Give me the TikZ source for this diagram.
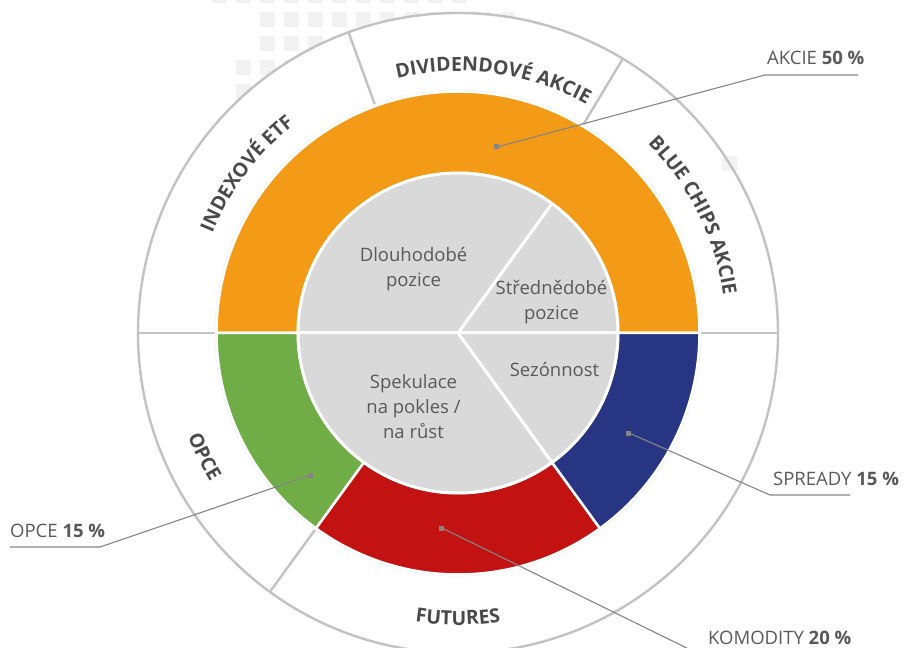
\documentclass[tikz,border=0pt]{standalone}
\usepackage{fontspec}
\setmainfont{Open Sans}
\usetikzlibrary{decorations.text}

\definecolor{akcieorange}{HTML}{F39A16}
\definecolor{opcegreen}{HTML}{70AD47}
\definecolor{komodred}{HTML}{C31212}
\definecolor{spreadblue}{HTML}{283583}
\definecolor{diskgray}{HTML}{D9D9D9}
\definecolor{ringgray}{HTML}{C2C2C2}
\definecolor{leadgray}{HTML}{858585}
\definecolor{textgray}{HTML}{595959}
\definecolor{boldgray}{HTML}{4A4A4A}
\definecolor{tilegray}{HTML}{F2F2F2}

\newcommand{\ringfont}{\fontsize{19.5}{19.5}\selectfont\bfseries}
\newcommand{\diskfont}{\fontsize{18.5}{25}\selectfont}

\begin{document}
\begin{tikzpicture}
[
    x=1pt, y=1pt,
    tile/.style={fill=tilegray},
    ringline/.style={draw=ringgray, line width=2.4pt},
    sector/.style={draw=white, line width=2.5pt},
    leader/.style={draw=leadgray, line width=1.1pt},
    dot/.style={fill=leadgray, rectangle, minimum size=5pt, inner sep=0pt},
    disklabel/.style={font=\diskfont, text=textgray, align=center, inner sep=0pt},
    sidelabel/.style={font=\diskfont, text=textgray, inner sep=0pt, anchor=base west},
    ringtext/.style={decorate, decoration={text along path, text align=center,
        text color=boldgray, text={|\ringfont|#1}}},
]
\useasboundingbox (-458,-315) rectangle (445,333);

% tiles in the back
\begin{scope}[shift={(-458,333)}, yscale=-1]
\foreach \k in {0,...,10} \fill[tile] ({212+24*\k},-12) rectangle ++(15,15);
\foreach \j in {12,36} \foreach \k in {2,...,12}
    \fill[tile] ({212+24*\k},\j) rectangle ++(15,15);
\foreach \j in {60,84} \foreach \k in {1,...,6}
    \fill[tile] ({212+24*\k},\j) rectangle ++(15,15);
\end{scope}

% outer ring
\fill[white] (0,0) circle (320);
\fill[tile] (264,177) rectangle ++(15,-15);
\draw[ringline] (0,0) circle (320);
\foreach \a in {0,59,110,180,234}
    \draw[ringline] (\a:240) -- (\a:320);

% coloured ring
\draw[gray!12, line width=0.8pt] (0,0) circle (243);
\foreach \from/\to/\col in {0/180/akcieorange, 180/234/opcegreen,
    234/306/komodred, 306/360/spreadblue}
    \filldraw[sector, fill=\col] (\from:160) -- (\from:241.5)
        arc[start angle=\from, end angle=\to, radius=241.5] -- (\to:160)
        arc[start angle=\to, end angle=\from, radius=160] -- cycle;

% inner disk
\filldraw[fill=diskgray, draw=white, line width=3pt] (0,0) circle (160);
\foreach \a in {0,54,180,306}
    \draw[white, line width=3pt] (0,0) -- (\a:159);

\node[disklabel] (dlouho) at (-44.5,64) {Dlouhodobé\\pozice};
\node[disklabel] (stredne) at (93.5,31) {Střednědobé\\pozice};
\node[disklabel, anchor=base] (sezon) at (96.5,-43.7) {Sezónnost};
\node[disklabel] (spekul) at (-44.5,-74) {Spekulace\\na pokles /\\na růst};

% texts along the outer ring
\path[ringtext=DIVIDENDOVÉ AKCIE] (106:262) arc[start angle=106, end angle=58, radius=262];
\path[ringtext=BLUE CHIPS AKCIE] (60:268) arc[start angle=60, end angle=-7, radius=268];
\path[ringtext=INDEXOVÉ ETF] (176:265) arc[start angle=176, end angle=110, radius=265];
\path[ringtext=OPCE] (185:289) arc[start angle=185, end angle=227, radius=289];
\path[ringtext=FUTURES] (240:292) arc[start angle=240, end angle=300, radius=292];

% leaders
\node[dot] (dotAkcie) at (39,186) {};
\node[dot] (dotSpready) at (171,-100) {};
\node[dot] (dotKomod) at (-16,-195) {};
\node[dot] (dotOpce) at (-147,-142) {};

\coordinate (bendAkcie) at (307,258);
\coordinate (endAkcie) at (400,258);
\coordinate (bendSpready) at (312,-162);
\coordinate (endSpready) at (392,-162);
\coordinate (bendOpce) at (-358,-214);
\coordinate (endOpce) at (-448,-214);
\coordinate (bendKomod) at (241,-321);

\node[sidelabel] (akcie) at (309,268) {AKCIE \textbf{50 \%}};
\node[sidelabel] (spready) at (315,-152) {SPREADY \textbf{15 \%}};
\node[sidelabel] (opce) at (-448,-204) {OPCE \textbf{15 \%}};
\node[sidelabel] (komodity) at (250,-311) {KOMODITY \textbf{20 \%}};

\draw[leader] (dotAkcie.center) -- (bendAkcie) -- (endAkcie);
\draw[leader] (dotSpready.center) -- (bendSpready) -- (endSpready);
\draw[leader] (dotOpce.center) -- (bendOpce) -- (endOpce);
\draw[leader] (dotKomod.center) -- (bendKomod);
\end{tikzpicture}
\end{document}
